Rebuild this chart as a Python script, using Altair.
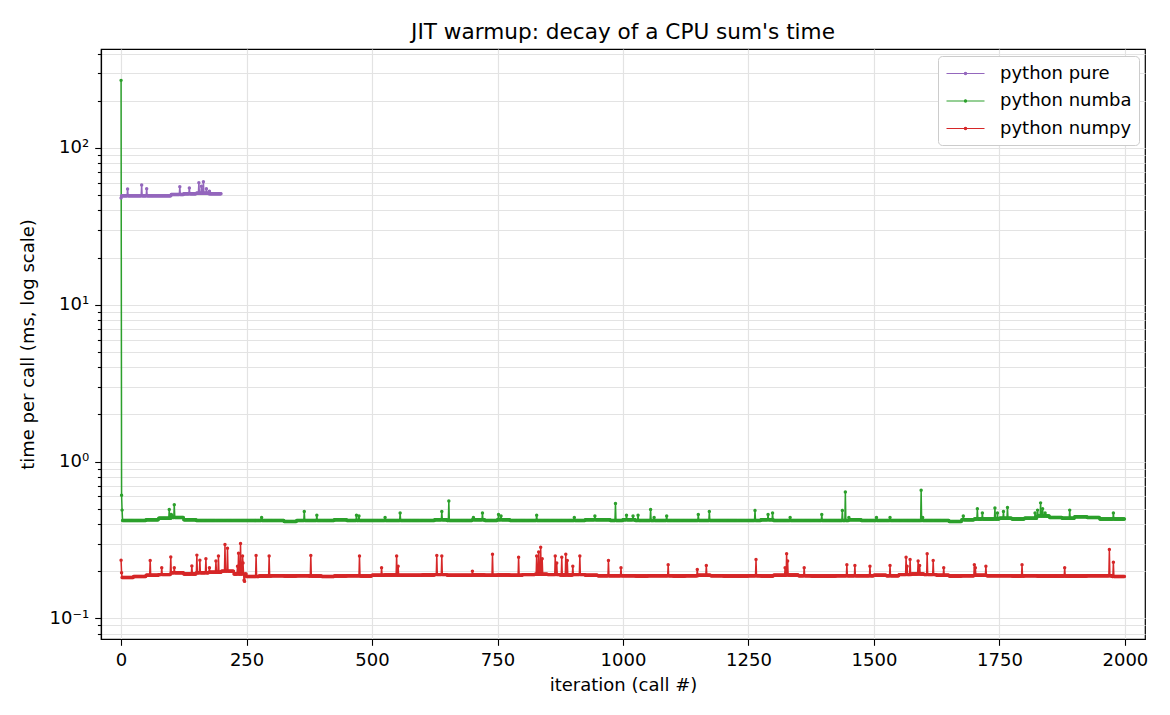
import altair as alt
import pandas as pd

BLOCK = 25  # iterations per baseline block

series_names = ["python pure", "python numba", "python numpy"]
series_colors = ["#9467bd", "#2ca02c", "#d62728"]

# ---- python pure (200 calls) ----
pure_base = [49.5, 49.5, 49.5, 49.5, 50.5, 51.0, 51.5, 51.0]
pure_spikes = {0: 48.0, 13: 54.8, 41: 58.0, 51: 55.0, 117: 56.6, 136: 55.6,
               155: 60.0, 160: 57.0, 164: 61.0, 170: 55.0, 176: 53.0}

# ---- python numba (2000 calls) ----
numba_base = [0.42, 0.42, 0.425, 0.435, 0.44, 0.425, 0.42, 0.42, 0.42, 0.42,
              0.42, 0.42, 0.42, 0.415, 0.42, 0.42, 0.42, 0.425, 0.42, 0.42,
              0.42, 0.42, 0.42, 0.42, 0.42, 0.425, 0.42, 0.42, 0.425, 0.42,
              0.425, 0.42, 0.42, 0.42, 0.42, 0.42, 0.42, 0.425, 0.425, 0.42,
              0.425, 0.42, 0.42, 0.42, 0.42, 0.42, 0.42, 0.42, 0.42, 0.42,
              0.42, 0.425, 0.42, 0.42, 0.42, 0.42, 0.42, 0.42, 0.425, 0.42,
              0.42, 0.42, 0.42, 0.42, 0.42, 0.42, 0.415, 0.425, 0.43, 0.43,
              0.435, 0.43, 0.435, 0.45, 0.44, 0.435, 0.445, 0.44, 0.43, 0.43]
numba_spikes = {0: 270.0, 1: 0.61, 2: 0.49,
                96: 0.495, 100: 0.46, 102: 0.45, 106: 0.53, 110: 0.44,
                280: 0.44, 365: 0.48, 390: 0.455, 469: 0.455, 474: 0.45,
                526: 0.44, 556: 0.47, 639: 0.48, 653: 0.56, 702: 0.44, 720: 0.47,
                752: 0.46, 757: 0.45, 828: 0.455, 903: 0.44, 944: 0.45, 985: 0.54,
                1007: 0.455, 1020: 0.45, 1030: 0.455, 1055: 0.495, 1062: 0.44,
                1087: 0.45, 1150: 0.46, 1172: 0.48, 1263: 0.487, 1289: 0.46,
                1298: 0.47, 1333: 0.44, 1396: 0.46, 1437: 0.487, 1443: 0.64,
                1450: 0.44, 1505: 0.44, 1532: 0.44, 1594: 0.656, 1597: 0.44,
                1678: 0.45, 1706: 0.50, 1716: 0.47, 1741: 0.505, 1746: 0.47,
                1758: 0.48, 1766: 0.51, 1821: 0.47, 1826: 0.49, 1832: 0.545,
                1836: 0.50, 1841: 0.47, 1890: 0.49, 1977: 0.47}

# ---- python numpy (2000 calls) ----
numpy_base = [0.182, 0.185, 0.188, 0.19, 0.195, 0.192, 0.195, 0.197, 0.2, 0.192,
              0.185, 0.186, 0.187, 0.186, 0.187, 0.186, 0.185, 0.186, 0.187, 0.186,
              0.188, 0.189, 0.188, 0.188, 0.189, 0.19, 0.188, 0.188, 0.189, 0.188,
              0.189, 0.188, 0.19, 0.191, 0.19, 0.189, 0.19, 0.188, 0.187, 0.187,
              0.187, 0.186, 0.187, 0.187, 0.186, 0.187, 0.188, 0.187, 0.186, 0.186,
              0.187, 0.186, 0.188, 0.189, 0.187, 0.186, 0.186, 0.187, 0.187, 0.187,
              0.188, 0.187, 0.19, 0.192, 0.19, 0.188, 0.186, 0.187, 0.188, 0.187,
              0.187, 0.186, 0.187, 0.186, 0.186, 0.186, 0.186, 0.187, 0.187, 0.185]
numpy_spikes = {0: 0.235, 1: 0.195,
                58: 0.234, 81: 0.21, 99: 0.246, 106: 0.21, 141: 0.216, 151: 0.253,
                157: 0.235, 169: 0.24, 176: 0.21, 189: 0.232, 194: 0.25, 207: 0.296,
                212: 0.28, 221: 0.20, 232: 0.215, 234: 0.26, 238: 0.30, 242: 0.25,
                243: 0.225, 245: 0.175, 246: 0.172,
                269: 0.252, 295: 0.25, 378: 0.252, 475: 0.25,
                519: 0.21, 549: 0.25, 552: 0.215, 629: 0.252, 639: 0.25, 700: 0.20,
                740: 0.256, 792: 0.245, 828: 0.25, 832: 0.265, 836: 0.284, 839: 0.24,
                865: 0.25, 868: 0.225, 878: 0.245, 886: 0.256, 889: 0.234, 900: 0.215,
                914: 0.25, 971: 0.234, 996: 0.21,
                1090: 0.22, 1148: 0.205, 1166: 0.217, 1265: 0.237, 1323: 0.21,
                1326: 0.258, 1328: 0.232, 1361: 0.21, 1446: 0.22, 1462: 0.217,
                1492: 0.215, 1532: 0.217, 1564: 0.245, 1566: 0.215, 1572: 0.237,
                1588: 0.232, 1591: 0.217, 1606: 0.258, 1618: 0.234, 1639: 0.21,
                1700: 0.22, 1702: 0.21, 1723: 0.215, 1795: 0.22, 1880: 0.21,
                1969: 0.275, 1977: 0.228}

x_ticks = [0, 250, 500, 750, 1000, 1250, 1500, 1750, 2000]
y_ticks = [0.08, 0.09,
           0.1, 0.2, 0.3, 0.4, 0.5, 0.6, 0.7, 0.8, 0.9,
           1, 2, 3, 4, 5, 6, 7, 8, 9,
           10, 20, 30, 40, 50, 60, 70, 80, 90,
           100, 200, 300, 400]


def build(name, base, spikes):
    rows = []
    for i in range(len(base) * BLOCK):
        rows.append({"iteration": i, "time": spikes.get(i, base[i // BLOCK]), "series": name})
    return rows


rows = (build(series_names[0], pure_base, pure_spikes)
        + build(series_names[1], numba_base, numba_spikes)
        + build(series_names[2], numpy_base, numpy_spikes))
df = pd.DataFrame(rows)

is_major = "abs(log(datum.value)/LN10 - round(log(datum.value)/LN10)) < 0.000001"
exp_expr = "round(log(datum.value)/LN10)"
label_expr = (f"({is_major}) ? ('10' + ({exp_expr} == -1 ? '⁻¹' : {exp_expr} == 0 ? '⁰' : "
              f"{exp_expr} == 1 ? '¹' : '²')) : ''")

x_enc = alt.X("iteration:Q",
              scale=alt.Scale(domain=[-40, 2040], nice=False, zero=False),
              axis=alt.Axis(values=x_ticks, format="d", title="iteration (call #)", grid=True,
                            tickSize=6.3, labelPadding=6, labelFlush=False,
                            titleY=46, titleBaseline="middle"))
y_enc = alt.Y("time:Q",
              scale=alt.Scale(type="log", domain=[0.0738, 428], nice=False),
              axis=alt.Axis(values=y_ticks, labelExpr=label_expr, title="time per call (ms, log scale)",
                            grid=True, labelOverlap=False, labelFlush=False, labelPadding=6,
                            tickSize={"condition": {"test": is_major, "value": 6.3}, "value": 3.6},
                            titleX=-73, titleBaseline="middle"))
color_enc = alt.Color("series:N",
                      scale=alt.Scale(domain=series_names, range=series_colors),
                      sort=series_names,
                      legend=alt.Legend(title=None, orient="none", legendX=837, legendY=7,
                                        symbolType="M-2,0H2M-0.12,0A0.12,0.12,0,1,1,0.12,0A0.12,0.12,0,1,1,-0.12,0",
                                        symbolSize=361, symbolStrokeWidth=1.2, symbolOffset=10,
                                        labelFontSize=18, labelColor="black", labelOffset=24,
                                        padding=7, rowPadding=7.5,
                                        fillColor="white", strokeColor="#cccccc", cornerRadius=4))

base = alt.Chart(df)
lines = base.mark_line(strokeWidth=1.5, clip=True).encode(
    x=x_enc, y=y_enc, color=color_enc, order="iteration:Q")
points = base.mark_point(filled=True, size=12, opacity=1, clip=True).encode(
    x=x_enc, y=y_enc, color=color_enc)

chart = alt.layer(lines, points).properties(
    width=1044, height=590,
    title="JIT warmup: decay of a CPU sum's time",
    autosize=alt.AutoSizeParams(type="none"),
    padding={"left": 93, "top": 41, "right": 10, "bottom": 60},
).configure(font="DejaVu Sans").configure_view(
    stroke="black", strokeWidth=1.2
).configure_axis(
    domainColor="black", domainWidth=1.2, tickColor="black", tickWidth=1.1,
    labelColor="black", titleColor="black", labelFontSize=18, titleFontSize=18,
    titleFontWeight="normal", gridColor="#e3e3e3", gridWidth=1.2,
    labelFont="DejaVu Sans", titleFont="DejaVu Sans"
).configure_legend(labelFont="DejaVu Sans").configure_title(
    fontSize=21.6, fontWeight="normal", anchor="middle", frame="group",
    baseline="alphabetic", offset=1, color="black", font="DejaVu Sans"
)

chart.save("out.html", embed_options={"renderer": "svg", "actions": False})
